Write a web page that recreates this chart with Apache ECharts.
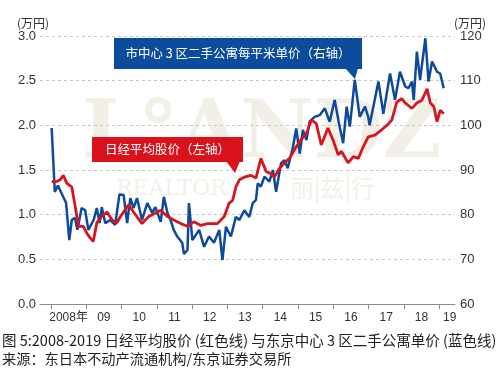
<!DOCTYPE html>
<html><head><meta charset="utf-8">
<script src="https://cdn.jsdelivr.net/npm/echarts@6/dist/echarts.min.js"></script>
<style>html,body{margin:0;padding:0;background:#fff}#c{width:500px;height:372px}</style>
</head><body><div id="c"></div>
<script>
// Tokyo central 3 wards second-hand condo price per m2 (万円, right axis)
const condoYears = [2008.02,2008.11,2008.20,2008.30,2008.43,2008.52,2008.59,2008.68,2008.75,2008.87,2008.97,2009.06,2009.21,2009.30,2009.38,2009.44,2009.54,2009.68,2009.82,2009.94,2010.06,2010.16,2010.25,2010.34,2010.44,2010.58,2010.73,2010.87,2010.96,2011.11,2011.20,2011.30,2011.39,2011.48,2011.58,2011.72,2011.77,2011.87,2011.91,2012.01,2012.20,2012.34,2012.48,2012.62,2012.77,2012.86,2012.96,2013.10,2013.24,2013.34,2013.48,2013.62,2013.72,2013.81,2013.86,2013.95,2014.05,2014.19,2014.29,2014.38,2014.52,2014.62,2014.71,2014.86,2014.95,2015.05,2015.14,2015.24,2015.33,2015.47,2015.62,2015.76,2015.90,2016.04,2016.16,2016.28,2016.38,2016.47,2016.61,2016.75,2016.90,2016.99,2017.03,2017.28,2017.42,2017.61,2017.75,2017.89,2018.04,2018.13,2018.23,2018.28,2018.37,2018.46,2018.61,2018.70,2018.80,2018.94,2019.03,2019.13];
const condoValues = [99.4,85.1,86.5,84.8,82.6,74.3,78.8,79.3,76.6,81.5,81.0,76.6,78.8,81.5,78.1,81.7,78.1,78.8,77.7,84.5,84.4,78.1,83.7,81.5,83.7,78.8,82.6,80.4,81.7,78.4,84.0,80.4,78.8,76.6,75.1,73.7,71.2,72.1,82.6,74.3,76.6,72.8,75.1,73.7,76.6,69.8,77.3,75.1,79.5,78.8,81.0,79.5,82.6,83.3,87.0,86.3,88.5,87.4,90.0,85.1,91.5,92.2,90.4,95.2,99.3,93.7,99.0,96.7,100.8,101.9,102.3,103.8,100.8,105.7,100.5,96.0,104.2,99.7,110.2,101.9,104.2,101.9,100.0,109.8,102.6,111.6,105.7,112.0,108.7,108.3,109.8,105.7,116.5,110.2,119.5,109.8,114.3,112.0,111.6,108.3];
// Nikkei average (万円, left axis)
const nikkeiYears = [2008.02,2008.16,2008.26,2008.35,2008.45,2008.59,2008.68,2008.78,2008.92,2009.02,2009.11,2009.20,2009.30,2009.44,2009.59,2009.73,2009.87,2009.97,2010.20,2010.34,2010.58,2010.77,2011.11,2011.30,2011.48,2011.68,2011.87,2012.05,2012.25,2012.44,2012.72,2012.91,2013.05,2013.15,2013.24,2013.34,2013.48,2013.67,2013.81,2013.95,2014.10,2014.24,2014.33,2014.48,2014.62,2014.76,2014.95,2015.09,2015.24,2015.38,2015.52,2015.66,2015.85,2015.99,2016.14,2016.23,2016.42,2016.57,2016.71,2016.85,2016.99,2017.18,2017.37,2017.52,2017.66,2017.80,2017.94,2018.04,2018.23,2018.37,2018.51,2018.66,2018.75,2018.85,2018.94,2019.03,2019.13];
const nikkeiValues = [1.37,1.37,1.39,1.44,1.35,1.31,1.11,0.87,0.87,0.79,0.74,0.70,0.91,0.98,1.03,0.94,0.91,0.98,1.11,1.03,0.90,0.98,1.05,0.98,0.94,0.90,0.87,0.92,0.88,0.90,0.90,0.98,1.13,1.16,1.31,1.39,1.42,1.44,1.41,1.63,1.48,1.46,1.42,1.52,1.58,1.63,1.76,1.84,1.91,2.06,2.02,1.78,1.97,1.84,1.67,1.71,1.58,1.65,1.63,1.76,1.87,1.89,1.95,2.00,2.06,2.26,2.30,2.25,2.19,2.25,2.28,2.41,2.25,2.21,2.04,2.17,2.13];
const xTickYears = [2008,2009,2010,2011,2012,2013,2014,2015,2016,2017,2018,2019];
const xLabelPos = [2008.5,2009.5,2010.5,2011.5,2012.5,2013.5,2014.5,2015.5,2016.5,2017.5,2018.5,2019.3];
const xLabels = ['2008年','09','10','11','12','13','14','15','16','17','18','19'];

const zip = (a,b)=>a.map((v,i)=>[v,b[i]]);
const chart = echarts.init(document.getElementById('c'));
const FONT = '"Noto Sans CJK SC", "Noto Sans", sans-serif';
const lbl = {color:'#333', fontSize:13, fontFamily:'"Liberation Sans", Arial, sans-serif'};
const WM = 'rgba(222,214,188,0.38)';
chart.setOption({
  animation:false,
  backgroundColor:'#fff',
  grid:{left:40,right:45,top:36,bottom:68},
  xAxis:{type:'value',min:2007.69,max:2019.45,
    axisLine:{show:true,lineStyle:{color:'#8a8a8a',width:1}},
    axisTick:{show:true,customValues:xTickYears,length:5,lineStyle:{color:'#8a8a8a'}},
    axisLabel:{customValues:xLabelPos,margin:8,fontSize:12,color:'#333',fontFamily:'"Liberation Sans", "Noto Sans CJK SC", sans-serif',
      formatter:v=>{const i=xLabelPos.findIndex(p=>Math.abs(p-v)<1e-6);return i>=0?xLabels[i]:'';}},
    splitLine:{show:false}},
  yAxis:[
    {type:'value',min:0,max:3,interval:0.5,name:'(万円)',nameGap:6,
     nameTextStyle:{color:'#333',fontSize:12,fontFamily:FONT,align:'center',padding:[0,0,0,-14]},
     axisLine:{show:false},axisTick:{show:false},
     axisLabel:Object.assign({margin:4,formatter:v=>v.toFixed(1)},lbl),
     splitLine:{lineStyle:{color:'#c8c8c8',type:[3,3]}}},
    {type:'value',min:60,max:120,interval:10,position:'right',name:'(万円)',nameGap:6,
     nameTextStyle:{color:'#333',fontSize:12,fontFamily:FONT,align:'center',padding:[0,0,0,30]},
     axisLine:{show:false},axisTick:{show:false},
     axisLabel:Object.assign({margin:5},lbl),
     splitLine:{show:false}}
  ],
  graphic:[
    {type:'text',left:82,top:96,z:-1,silent:true,style:{text:'L°ANDZ',font:'bold 80px "DejaVu Serif", serif',fill:WM}},
    {type:'text',left:116,top:178,z:-1,silent:true,style:{text:'REALTOR',font:'22px "DejaVu Serif", serif',fill:WM}},
    {type:'text',left:290,top:176,z:-1,silent:true,style:{text:'丽|兹|行',font:'24px "Noto Sans CJK SC"',fill:WM}},
    {type:'polygon',z:10,shape:{points:[[345,68],[358,68],[355,79]]},style:{fill:'#0b4c9c'}},
    {type:'rect',z:10,shape:{x:114,y:38,width:248,height:31},style:{fill:'#0b4c9c'}},
    {type:'text',z:11,x:238,y:53.5,style:{text:'市中心 3 区二手公寓每平米单价（右轴）',font:'12.5px '+FONT,fill:'#fff',align:'center',verticalAlign:'middle'}},
    {type:'polygon',z:10,shape:{points:[[226,161],[240,161],[235,173]]},style:{fill:'#d9121c'}},
    {type:'rect',z:10,shape:{x:92,y:137,width:151,height:25},style:{fill:'#d9121c'}},
    {type:'text',z:11,x:167.5,y:149.5,style:{text:'日经平均股价（左轴）',font:'12.5px '+FONT,fill:'#fff',align:'center',verticalAlign:'middle'}},
    {type:'text',left:2,top:333,style:{text:'图 5:2008-2019 日经平均股价 (红色线) 与东京中心 3 区二手公寓单价 (蓝色线)',font:'14.5px '+FONT,fill:'#222'}},
    {type:'text',left:2,top:352,style:{text:'来源：东日本不动产流通机构/东京证券交易所',font:'14.2px '+FONT,fill:'#222'}}
  ],
  series:[
    {type:'line',yAxisIndex:1,data:zip(condoYears,condoValues),symbol:'none',lineStyle:{color:'#0d4a9b',width:2.5},z:3},
    {type:'line',yAxisIndex:0,data:zip(nikkeiYears,nikkeiValues),symbol:'none',lineStyle:{color:'#d8141e',width:2.8},z:4}
  ]
});
</script></body></html>
